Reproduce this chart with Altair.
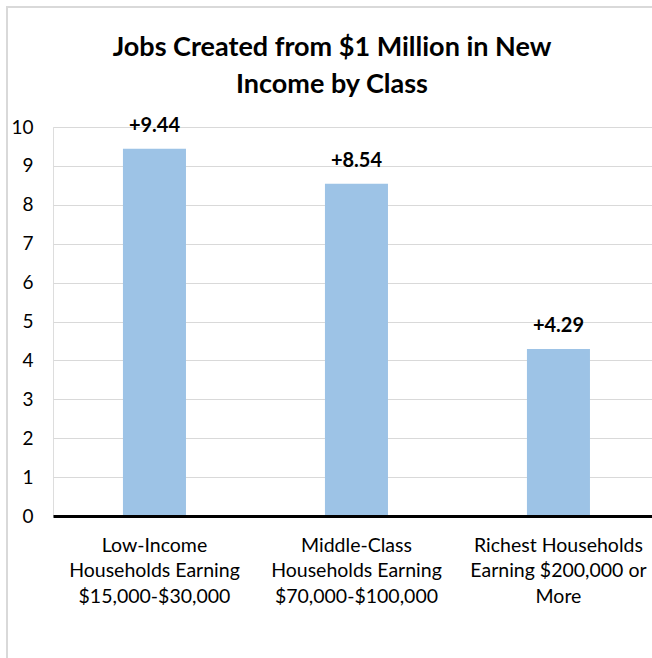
import altair as alt
import pandas as pd

categories = [
    "Low-Income|Households Earning|$15,000-$30,000",
    "Middle-Class|Households Earning|$70,000-$100,000",
    "Richest Households|Earning $200,000 or|More",
]
jobs = [9.44, 8.54, 4.29]
y_ticks = [0, 1, 2, 3, 4, 5, 6, 7, 8, 9, 10]
title_lines = ["Jobs Created from $1 Million in New", "Income by Class"]

FONT = "Lato"

df = pd.DataFrame({"category": categories, "jobs": jobs})

x_enc = alt.X(
    "category:N",
    sort=categories,
    title=None,
    scale=alt.Scale(paddingInner=0.688, paddingOuter=0.3267, align=0.53),
    axis=alt.Axis(
        labelExpr="split(datum.label, '|')",
        labelAngle=0,
        labelFont=FONT,
        labelFontSize=19.5,
        labelColor="#000000",
        labelPadding=20,
        labelLineHeight=25.5,
        ticks=False,
        grid=False,
        domainColor="#000000",
        domainWidth=3,
        zindex=1,
    ),
)
y_enc = alt.Y(
    "jobs:Q",
    title=None,
    scale=alt.Scale(domain=[0, 10], nice=False, zero=True),
    axis=alt.Axis(
        values=y_ticks,
        tickCount=len(y_ticks),
        labelOverlap=False,
        domain=False,
        ticks=False,
        labelFont=FONT,
        labelFontSize=19,
        labelColor="#000000",
        labelPadding=20,
        gridColor="#D9D9D9",
        gridWidth=1,
    ),
)

bars = alt.Chart(df).mark_bar(color="#9DC3E6").encode(x=x_enc, y=y_enc)

labels = alt.Chart(df).mark_text(
    dy=-17, baseline="alphabetic", fontWeight="bold", fontSize=20, font=FONT, color="#000000"
).encode(
    x=alt.X("category:N", sort=categories),
    y=alt.Y("jobs:Q"),
    text=alt.Text("jobs:Q", format="+.2f"),
)

frame = alt.Chart(pd.DataFrame({"f": [0]})).mark_rect(
    fillOpacity=0, stroke="#D9D9D9", strokeWidth=2
).encode(
    x=alt.value(-46), x2=alt.value(720), y=alt.value(-120), y2=alt.value(700)
)

title = alt.Chart(pd.DataFrame({"f": [0]})).mark_text(
    font=FONT, fontSize=27, fontWeight="bold", color="#000000",
    align="center", baseline="alphabetic", lineHeight=37,
).encode(x=alt.value(279), y=alt.value(-71), text=alt.value(title_lines))

chart = alt.layer(bars, labels, frame, title).properties(
    width=599,
    height=389,
    autosize=alt.AutoSizeParams(type="none"),
    padding={"left": 53, "top": 127, "right": 0, "bottom": 142},
).configure_view(stroke=None).configure(background="white")

chart.save("out.html", embed_options={"renderer": "svg", "actions": False})
